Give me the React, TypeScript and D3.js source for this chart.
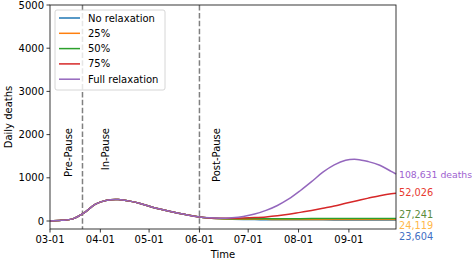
import React from "react";
import * as d3 from "d3";

// weekly samples, 2020
const dates = [
  "03-01", "03-08", "03-15", "03-22", "03-29", "04-05", "04-12", "04-19", "04-26",
  "05-03", "05-10", "05-17", "05-24", "05-31", "06-07", "06-14", "06-21", "06-28",
  "07-05", "07-12", "07-19", "07-26", "08-02", "08-09", "08-16", "08-23", "08-30",
  "09-06", "09-13", "09-20", "09-27", "09-30",
];

// shared first wave (Mar 1 - May 31)
const firstWave = [3, 15, 50, 190, 390, 480, 495, 460, 400, 320, 255, 195, 145, 100];

const noRelax = [70, 52, 42, 36, 33, 31, 30, 29, 28, 27, 27, 26, 26, 25, 25, 25, 25, 25];
const relax25 = [70, 53, 45, 41, 39, 38, 37, 36, 36, 35, 35, 35, 35, 35, 35, 35, 35, 35];
const relax50 = [71, 57, 53, 52, 52, 53, 54, 55, 55, 56, 57, 57, 58, 58, 58, 59, 59, 59];
const relax75 = [72, 64, 64, 70, 80, 95, 120, 155, 200, 245, 295, 345, 410, 470, 530, 585, 630, 642];
const fullRelax = [73, 62, 75, 105, 160, 245, 360, 510, 700, 910, 1130, 1300, 1405, 1425, 1375, 1290, 1150, 1088];

const seriesNames = ["No relaxation", "25%", "50%", "75%", "Full relaxation"];
const seriesTails = [noRelax, relax25, relax50, relax75, fullRelax];
const lineColors = ["#1f77b4", "#ff7f0e", "#2ca02c", "#d62728", "#9467bd"];
const endLabels = ["23,604", "24,119", "27,241", "52,026", "108,631 deaths"];
const labelColors = ["#3f6fc4", "#ffb84a", "#5b8c3a", "#e8392f", "#9d5fd0"];

const xTicks = ["03-01", "04-01", "05-01", "06-01", "07-01", "08-01", "09-01"];
const yTicks = [0, 1000, 2000, 3000, 4000, 5000];
const phaseLines = ["03-21", "06-01"];
const phaseLabels = [
  { text: "Pre-Pause", at: "03-12" },
  { text: "In-Pause", at: "04-04" },
  { text: "Post-Pause", at: "06-11" },
];

const parse = d3.utcParse("%Y-%m-%d");
const day = (s: string) => parse("2020-" + s) as Date;

const W = 472, H = 262;
const m = { left: 50, right: 76, top: 5, bottom: 33 };

export default function App() {
  const x = d3.scaleUtc()
    .domain([day("03-01"), day("09-30")])
    .range([m.left, W - m.right]);
  const y = d3.scaleLinear()
    .domain([-185, 5000])
    .range([H - m.bottom, m.top]);

  const series = seriesTails.map((tail, i) => ({
    name: seriesNames[i],
    color: lineColors[i],
    points: firstWave.concat(tail).map((v, j) => ({ d: day(dates[j]), v })),
  }));

  const line = d3.line<{ d: Date; v: number }>()
    .x(p => x(p.d))
    .y(p => y(p.v))
    .curve(d3.curveCatmullRom.alpha(0.5));

  const font = "DejaVu Sans, sans-serif";
  const x0 = m.left, x1 = W - m.right, y0 = m.top, y1 = H - m.bottom;
  const labelY = [237, 226, 215, 193, 175];

  return (
    <svg width={W} height={H} style={{ position: "absolute", left: 0, top: 0 }} fontFamily={font}>
      <rect width={W} height={H} fill="white" />
      {phaseLines.map(s => (
        <line key={s} x1={x(day(s))} x2={x(day(s))} y1={y0} y2={y1}
          stroke="#808080" strokeWidth={1.5} strokeDasharray="5.5,2.4" />
      ))}
      {phaseLabels.map(p => (
        <text key={p.text} transform={`translate(${x(day(p.at)) + 4},128) rotate(-90)`}
          fontSize={10} textAnchor="end" fill="#000">{p.text}</text>
      ))}
      {series.map(s => (
        <path key={s.name} d={line(s.points) || ""} fill="none" stroke={s.color} strokeWidth={1.5} />
      ))}
      <rect x={x0} y={y0} width={x1 - x0} height={y1 - y0} fill="none" stroke="#222" strokeWidth={0.9} />
      {xTicks.map(t => (
        <g key={t} transform={`translate(${x(day(t))},${y1})`}>
          <line y2={3.5} stroke="#222" strokeWidth={0.9} />
          <text y={14} fontSize={10} textAnchor="middle">{t}</text>
        </g>
      ))}
      {yTicks.map(t => (
        <g key={t} transform={`translate(${x0},${y(t)})`}>
          <line x2={-3.5} stroke="#222" strokeWidth={0.9} />
          <text x={-6} dy="0.35em" fontSize={10} textAnchor="end">{t}</text>
        </g>
      ))}
      <text x={(x0 + x1) / 2} y={H - 4} fontSize={10} textAnchor="middle">Time</text>
      <text transform={`translate(12,${(y0 + y1) / 2}) rotate(-90)`} fontSize={10} textAnchor="middle">Daily deaths</text>
      {series.map((s, i) => (
        <text key={s.name} x={x1 + 3} y={labelY[i]} dy="0.35em" fontSize={i === 4 ? 9.3 : 9.8} fill={labelColors[i]}>
          {endLabels[i]}
        </text>
      ))}
      <g transform="translate(55,10)">
        <rect width={110} height={80} rx={2} fill="white" fillOpacity={0.8} stroke="#ccc" strokeWidth={0.8} />
        {series.map((s, i) => (
          <g key={s.name} transform={`translate(0,${8 + i * 15.3})`}>
            <line x1={4} x2={25} stroke={s.color} strokeWidth={1.5} />
            <text x={33} dy="0.35em" fontSize={10}>{s.name}</text>
          </g>
        ))}
      </g>
    </svg>
  );
}
